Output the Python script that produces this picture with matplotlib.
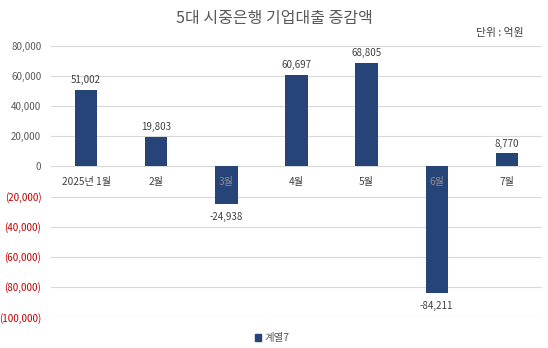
import matplotlib
matplotlib.use("Agg")
import matplotlib.pyplot as plt
from matplotlib.ticker import FuncFormatter
from matplotlib.patches import Patch

plt.rcParams['font.family'] = ['Noto Sans CJK KR', 'DejaVu Sans']

categories = ["2025년 1월", "2월", "3월", "4월", "5월", "6월", "7월"]
values = [51002, 19803, -24938, 60697, 68805, -84211, 8770]
series_name = "계열7"
title = "5대 시중은행 기업대출 증감액"
unit_note = "단위 : 억원"

bar_color = "#264478"
grid_color = "#d9d9d9"
text_gray = "#595959"
neg_red = "#c00000"

fig = plt.figure(figsize=(5.48, 3.48), dpi=100)
ax = fig.add_axes([51 / 548, 1 - 317 / 348, (542 - 51) / 548, (317 - 46) / 348])

x = list(range(len(categories)))
ax.bar(x, values, width=0.32, color=bar_color, zorder=3)

ax.set_xlim(-0.5, len(categories) - 0.5)
ax.set_ylim(-100000, 80000)
ax.set_yticks(range(-100000, 80001, 20000))


def fmt(v, pos):
    if v < 0:
        return f"({abs(int(v)):,})"
    return f"{int(v):,}"


ax.yaxis.set_major_formatter(FuncFormatter(fmt))
ax.tick_params(axis='y', length=0, labelsize=7, labelcolor=text_gray, pad=7)
for lbl, v in zip(ax.get_yticklabels(), ax.get_yticks()):
    if v < 0:
        lbl.set_color(neg_red)
ax.set_xticks([])
ax.grid(axis='y', color=grid_color, linewidth=0.8, zorder=0)
for s in ax.spines.values():
    s.set_visible(False)

# category labels sit just under the zero line
for i, (c, v) in enumerate(zip(categories, values)):
    col = "#8c8c8c" if v < 0 else "#404040"
    ax.annotate(c, (i, 0), xytext=(0, -11), textcoords='offset points',
                ha='center', va='center', fontsize=7.3, color=col, zorder=4)

# value labels
for i, v in enumerate(values):
    off = 7 if v >= 0 else -9
    ax.annotate(f"{v:,}", (i, v), xytext=(0, off), textcoords='offset points',
                ha='center', va='center', fontsize=7, color="#404040")

fig.text(274 / 548, 1 - 18 / 348, title, ha='center', va='center',
         fontsize=11.5, color=text_gray)
fig.text(524 / 548, 1 - 33 / 348, unit_note, ha='right', va='center',
         fontsize=7.8, color="#404040")

fig.legend(handles=[Patch(color=bar_color)], labels=[series_name],
           loc='center', bbox_to_anchor=(272 / 548, 1 - 338 / 348),
           frameon=False, fontsize=7.5, handlelength=0.6, handleheight=0.6,
           handletextpad=0.3, labelcolor=text_gray)

fig.savefig("out.png", dpi=100)
